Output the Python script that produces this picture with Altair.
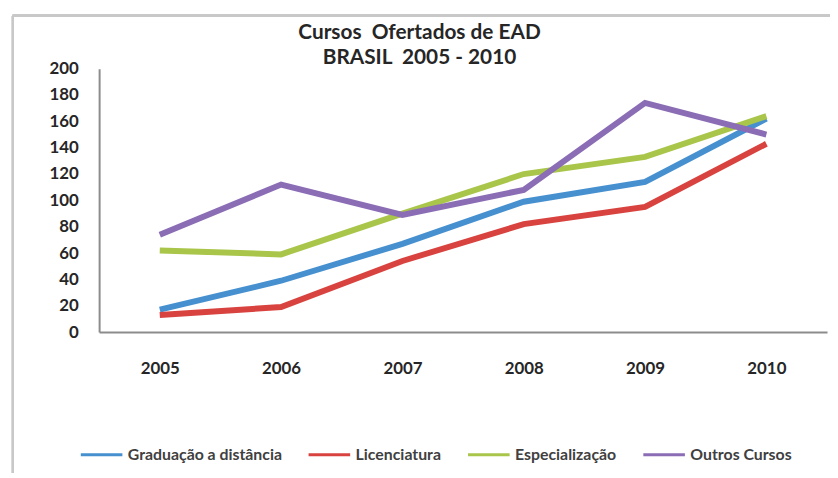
import altair as alt
import pandas as pd

years = ["2005", "2006", "2007", "2008", "2009", "2010"]
series_names = ["Graduação a distância", "Licenciatura", "Especialização", "Outros Cursos"]
graduacao = [17, 39, 67, 99, 114, 162]
licenciatura = [13, 19, 54, 82, 95, 143]
especializacao = [62, 59, 90, 120, 133, 164]
outros = [74, 112, 89, 108, 174, 150]
colors = ["#4690d0", "#d8433f", "#a9c64b", "#8a6db4"]
y_ticks = list(range(0, 201, 20))
title_lines = ["Cursos\u00a0 Ofertados de EAD", "BRASIL\u00a0 2005 - 2010"]

rows = []
for name, vals in zip(series_names, [graduacao, licenciatura, especializacao, outros]):
    for yr, v in zip(years, vals):
        rows.append({"Ano": yr, "Série": name, "Valor": v})
df = pd.DataFrame(rows)

FONT = "Lato"

lines = alt.Chart(df).mark_line(strokeWidth=6, strokeJoin="miter", strokeCap="butt").encode(
    x=alt.X("Ano:O", sort=years, title=None,
            axis=alt.Axis(labelAngle=0, ticks=False, labelPadding=29, labelFontSize=17,
                          labelFontWeight="bold", labelColor="#262626", labelFont=FONT,
                          domainColor="#8c8c8c", domainWidth=2)),
    y=alt.Y("Valor:Q", title=None, scale=alt.Scale(domain=[0, 200], nice=False),
            axis=alt.Axis(values=y_ticks, ticks=False, grid=False, labelPadding=21,
                          labelFontSize=17, labelFontWeight="bold", labelColor="#262626",
                          labelFont=FONT, domainColor="#8c8c8c", domainWidth=2)),
    color=alt.Color("Série:N", sort=series_names,
                    scale=alt.Scale(domain=series_names, range=colors),
                    legend=alt.Legend(title=None, orient="none", legendX=-20, legendY=367,
                                      direction="horizontal", symbolType="stroke",
                                      symbolSize=1764, symbolStrokeWidth=3, labelFontSize=16,
                                      labelFont=FONT, labelColor="#404040",
                                      labelFontWeight="bold", columnPadding=20,
                                      labelOffset=4, padding=0)),
)

frame_top = alt.Chart(df).mark_rule(color="#c8c8c8", strokeWidth=2).encode(
    x=alt.value(-87), x2=alt.value(760), y=alt.value(-54)
)
frame_left = alt.Chart(df).mark_rule(color="#c8c8c8", strokeWidth=2).encode(
    x=alt.value(-87), y=alt.value(-54), y2=alt.value(420)
)

chart = alt.layer(frame_top, frame_left, lines).properties(
    width=735,
    height=266,
    autosize=alt.AutoSizeParams(type="none"),
    padding={"left": 92, "top": 59, "right": 3, "bottom": 140},
    title=alt.TitleParams(text=title_lines,
                          fontSize=21, font=FONT, fontWeight="bold", color="#262626",
                          anchor="middle", dx=-44, dy=58, lineHeight=25, offset=4),
).configure_view(stroke=None)

chart.save("out.html", embed_options={"renderer": "svg", "actions": False})
